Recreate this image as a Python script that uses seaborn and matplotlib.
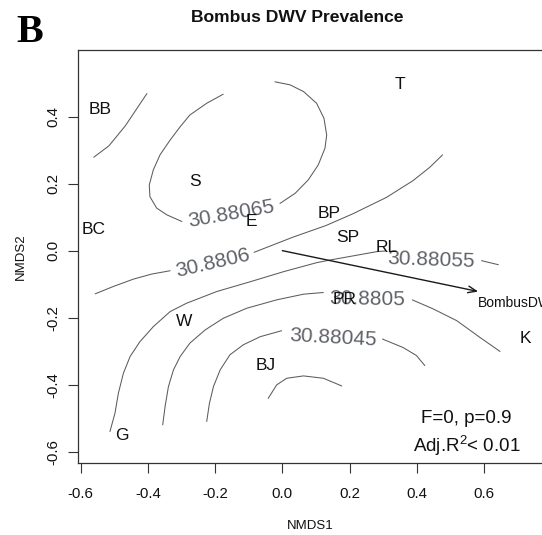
import numpy as np
import pandas as pd
import matplotlib
matplotlib.use("Agg")
import matplotlib.pyplot as plt
import seaborn as sns

# ---------------- data ----------------
sites = ["BB", "T", "S", "BC", "E", "BP", "SP", "RL", "PR", "W", "BJ", "K", "G"]
site_x = [-0.541, 0.349, -0.260, -0.561, -0.093, 0.140, 0.195, 0.310, 0.185, -0.293, -0.051, 0.722, -0.477]
site_y = [0.421, 0.495, 0.206, 0.063, 0.087, 0.110, 0.040, 0.010, -0.147, -0.212, -0.343, -0.262, -0.552]

# fitted-surface contour lines (segments)
c8807_x = [-0.561, -0.516, -0.467, -0.433, -0.403]
c8807_y = [0.279, 0.313, 0.373, 0.424, 0.469]
c88065a_x = [-0.176, -0.225, -0.275, -0.304, -0.334, -0.364, -0.384, -0.396, -0.394, -0.374, -0.344, -0.299]
c88065a_y = [0.467, 0.440, 0.405, 0.370, 0.330, 0.286, 0.241, 0.196, 0.161, 0.127, 0.107, 0.087]
c88065b_x = [-0.007, 0.038, 0.077, 0.107, 0.127, 0.132, 0.124, 0.102, 0.063, 0.023, -0.022]
c88065b_y = [0.141, 0.171, 0.211, 0.256, 0.306, 0.345, 0.395, 0.440, 0.475, 0.495, 0.504]
c8806a_x = [-0.557, -0.503, -0.443, -0.389, -0.334]
c8806a_y = [-0.129, -0.107, -0.085, -0.070, -0.060]
c8806b_x = [-0.084, 0.031, 0.130, 0.210, 0.310, 0.389, 0.439, 0.477]
c8806b_y = [-0.005, 0.040, 0.075, 0.110, 0.159, 0.209, 0.249, 0.286]
c88055a_x = [-0.513, -0.498, -0.488, -0.473, -0.453, -0.424, -0.384, -0.334, -0.285, -0.195, -0.096, 0.003, 0.102, 0.142, 0.281, 0.306]
c88055a_y = [-0.540, -0.485, -0.426, -0.366, -0.316, -0.272, -0.227, -0.182, -0.157, -0.122, -0.093, -0.063, -0.036, -0.028, -0.003, -0.001]
c88055b_x = [0.593, 0.643]
c88055b_y = [-0.030, -0.042]
c8805a_x = [-0.356, -0.349, -0.339, -0.324, -0.304, -0.275, -0.230, -0.176, -0.106, -0.017, 0.063, 0.122]
c8805a_y = [-0.520, -0.466, -0.406, -0.356, -0.316, -0.276, -0.237, -0.202, -0.172, -0.147, -0.130, -0.125]
c8805b_x = [0.387, 0.449, 0.519, 0.588, 0.648]
c8805b_y = [-0.147, -0.174, -0.209, -0.259, -0.301]
c88045a_x = [-0.225, -0.217, -0.205, -0.185, -0.156, -0.116, -0.066, -0.002]
c88045a_y = [-0.510, -0.456, -0.406, -0.356, -0.311, -0.281, -0.257, -0.239]
c88045b_x = [0.298, 0.359, 0.399, 0.424]
c88045b_y = [-0.264, -0.289, -0.313, -0.343]
c8804_x = [-0.042, -0.017, 0.013, 0.063, 0.122, 0.177]
c8804_y = [-0.441, -0.401, -0.381, -0.374, -0.381, -0.404]

contour_labels = ["30.88065", "30.8806", "30.88055", "30.8805", "30.88045"]
clabel_x = [-0.153, -0.208, 0.443, 0.252, 0.152]
clabel_y = [0.110, -0.037, -0.028, -0.146, -0.261]
clabel_rot = [10, 13, -2, -1, -3]

vector_name = "BombusDWV"
vector_x = [0.0, 0.583]
vector_y = [0.0, -0.122]

xticks = [-0.6, -0.4, -0.2, 0.0, 0.2, 0.4, 0.6]
xtick_labels = ["-0.6", "-0.4", "-0.2", "0.0", "0.2", "0.4", "0.6"]
yticks = [-0.6, -0.4, -0.2, 0.0, 0.2, 0.4]
ytick_labels = ["-0.6", "-0.4", "-0.2", "0.0", "0.2", "0.4"]

title = "Bombus DWV Prevalence"
stat_line1 = "F=0, p=0.9"
stat_line2 = r"Adj.R$^{2}$< 0.01"

# ---------------- style ----------------
sns.set_theme(style="ticks")
plt.rcParams["font.family"] = ["Liberation Sans", "DejaVu Sans"]
plt.rcParams["axes.unicode_minus"] = False
plt.rcParams["mathtext.fontset"] = "custom"
plt.rcParams["mathtext.rm"] = "Liberation Sans"
plt.rcParams["mathtext.it"] = "Liberation Sans"

W, H = 542, 535
fig = plt.figure(figsize=(W / 100, H / 100), dpi=100)
fig.patch.set_facecolor("white")

x0, x1 = -0.609, 0.83
y0, y1 = -0.634, 0.599
ax_left_px, ax_top_px, ax_bot_px = 77.7, 50, 463
ax_w_px = (x1 - x0) * 336
ax = fig.add_axes([ax_left_px / W, (H - ax_bot_px) / H, ax_w_px / W, (ax_bot_px - ax_top_px) / H])
ax.set_facecolor("white")

# contour lines via seaborn
segs = [
    (c8807_x, c8807_y), (c88065a_x, c88065a_y), (c88065b_x, c88065b_y),
    (c8806a_x, c8806a_y), (c8806b_x, c8806b_y), (c88055a_x, c88055a_y),
    (c88055b_x, c88055b_y), (c8805a_x, c8805a_y), (c8805b_x, c8805b_y),
    (c88045a_x, c88045a_y), (c88045b_x, c88045b_y), (c8804_x, c8804_y),
]
rows = []
for i, (xs, ys) in enumerate(segs):
    for k, (a, b) in enumerate(zip(xs, ys)):
        rows.append({"seg": i, "order": k, "x": a, "y": b})
cdf = pd.DataFrame(rows)
sns.lineplot(data=cdf, x="x", y="y", units="seg", estimator=None, sort=False,
             color="#5c5c5c", linewidth=0.75, ax=ax, legend=False)

for lab, lx, ly, rot in zip(contour_labels, clabel_x, clabel_y, clabel_rot):
    ax.text(lx, ly, lab, fontsize=15, color="#5f6268", ha="center", va="center",
            rotation=rot, rotation_mode="anchor", zorder=3)

# site labels
for s, sx, sy in zip(sites, site_x, site_y):
    ax.text(sx, sy, s, fontsize=12.5, color="#111111", ha="center", va="center", zorder=4)

# fitted vector
ax.annotate("", xy=(vector_x[1], vector_y[1]), xytext=(vector_x[0], vector_y[0]),
            arrowprops=dict(arrowstyle="->,head_length=0.5,head_width=0.2",
                            color="#1a1a1a", lw=1.0, shrinkA=0, shrinkB=0), zorder=5)
ax.text(vector_x[1] - 0.002, vector_y[1] - 0.033, vector_name, fontsize=10,
        color="#111111", ha="left", va="center", zorder=5)

ax.text(0.548, -0.501, stat_line1, fontsize=13.5, color="#111111", ha="center", va="center")
ax.text(0.548, -0.584, stat_line2, fontsize=13.5, color="#111111", ha="center", va="center")

ax.set_xlim(x0, x1)
ax.set_ylim(y0, y1)
ax.set_xticks(xticks)
ax.set_xticklabels(xtick_labels)
ax.set_yticks(yticks)
ax.set_yticklabels(ytick_labels, rotation=90, va="center")
ax.tick_params(axis="x", direction="out", length=7.2, width=0.8, pad=10,
               labelsize=10.8, color="#333333", labelcolor="#111111")
ax.tick_params(axis="y", direction="out", length=7.2, width=0.8, pad=5,
               labelsize=10.8, color="#333333", labelcolor="#111111")
for sp in ax.spines.values():
    sp.set_color("#333333")
    sp.set_linewidth(0.9)

ax.set_xlabel("NMDS1", fontsize=9.5, color="#111111")
ax.set_ylabel("NMDS2", fontsize=9.5, color="#111111")
ax.xaxis.set_label_coords((310 - ax_left_px) / ax_w_px, (ax_bot_px - 520) / (ax_bot_px - ax_top_px))
ax.yaxis.set_label_coords((27 - ax_left_px) / ax_w_px, 0.5)

fig.text(297.5 / W, 1 - 18 / H, title, fontsize=12.6, fontweight="bold", ha="center", va="center", color="#111111")
fig.text(29.5 / W, 1 - 32 / H, "B", fontsize=29, fontweight="bold", family="Liberation Serif",
         ha="center", va="center", color="black")

fig.savefig("out.png", dpi=100, facecolor="white")
